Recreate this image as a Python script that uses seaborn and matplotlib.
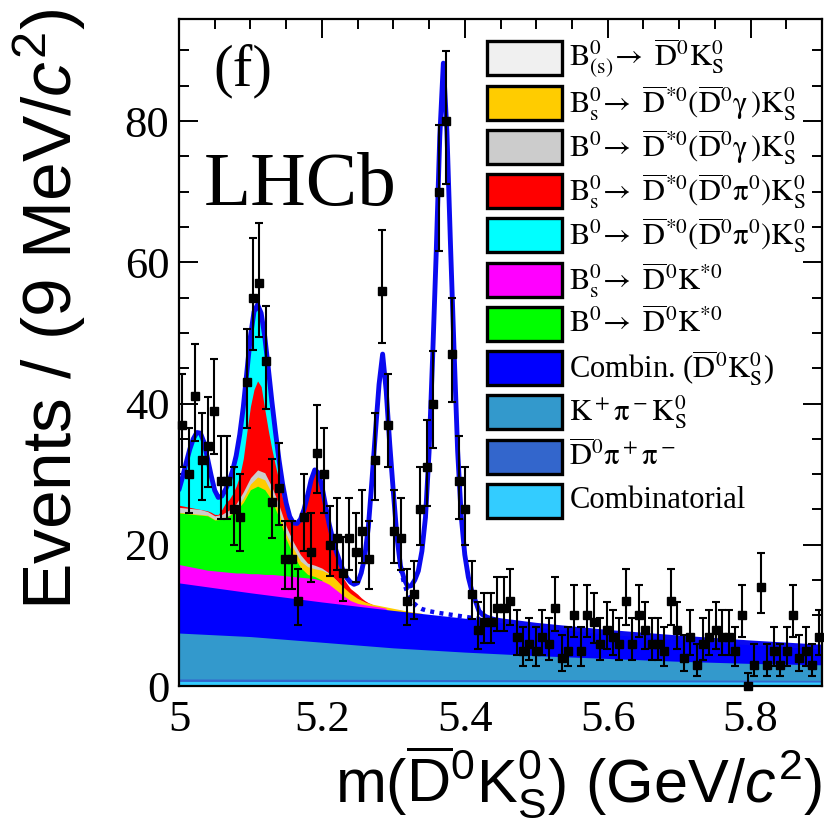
import numpy as np
import matplotlib
matplotlib.use("Agg")
import matplotlib.pyplot as plt
import seaborn as sns
from matplotlib.patches import Rectangle
from matplotlib.ticker import MultipleLocator, FuncFormatter

# ---------------- data ----------------
# histogram: 100 bins of 9 MeV from 5.0 to 5.9 GeV
bin_start = 5.0
bin_width = 0.009
counts = [37, 30, 41, 32, 34, 39, 29, 29, 25, 24,
          43, 55, 57, 46, 26, 28, 18, 18, 12, 24,
          19, 33, 30, 20, 21, 16, 21, 19, 22, 18,
          32, 56, 37, 22, 21, 12, 13, 25, 31, 40,
          70, 80, 47, 29, 25, 13, 8, 9, 9, 11,
          11, 12, 7, 5, 6, 5, 7, 6, 11, 4,
          5, 10, 5, 10, 9, 6, 8, 7, 6, 12,
          6, 10, 8, 6, 6, 5, 12, 8, 4, 7,
          3, 6, 7, 8, 7, 7, 5, 10, 0, 3,
          14, 3, 5, 3, 5, 10, 4, 5, 3, 7]

# total fit curve (fine samples 5.000..5.450 step 5 MeV, then coarse tail)
curve_fine_y = [27.8, 29.6, 31.6, 33.5, 35.0, 35.9, 35.8, 34.5, 32.2, 29.8,
                27.7, 26.7, 26.9, 27.8, 28.9, 30.5, 32.6, 35.6, 39.5, 44.5,
                49.5, 53.0, 54.0, 52.8, 49.5, 45.0, 40.3, 36.0, 32.0, 28.6,
                25.9, 24.0, 23.1, 23.0, 23.6, 25.0, 27.0, 29.2, 30.6, 30.2,
                28.3, 25.6, 23.0, 20.9, 19.1, 17.6, 16.3, 15.3, 14.7, 14.4,
                14.6, 16.0, 18.3, 22.5, 29.0, 36.0, 42.7, 47.0, 41.8, 34.2,
                27.5, 21.2, 17.0, 15.2, 14.1, 14.2, 15.0, 16.3, 19.1, 23.9,
                33.1, 46.6, 61.3, 77.8, 88.2, 78.5, 62.5, 47.5, 33.3, 24.1,
                18.6, 15.4, 13.4, 12.0, 10.6, 10.1, 9.8, 9.6, 9.45, 9.35,
                9.25]
curve_tail_x = [5.5, 5.6, 5.7, 5.8, 5.9]
curve_tail_y = [8.6, 7.6, 6.8, 6.1, 5.5]

# dotted curve (fit without the Bs signal)
dot_x = [5.310, 5.315, 5.320, 5.325, 5.330, 5.335, 5.340, 5.345, 5.350, 5.360,
         5.370, 5.380, 5.390, 5.400, 5.410, 5.420, 5.430, 5.440, 5.450]
dot_y = [16.6, 14.6, 13.1, 12.2, 11.6, 11.15, 10.9, 10.75, 10.6, 10.4,
         10.25, 10.1, 9.95, 9.8, 9.65, 9.5, 9.4, 9.3, 9.2]

# cumulative tops of stacked components
cyan_top = [27.6, 29.4, 31.4, 33.3, 34.8, 35.7, 35.6, 34.3, 32.0, 29.6,
            27.5, 26.5, 26.7, 27.6, 28.7, 30.3, 32.4, 35.4, 39.3, 44.3,
            49.3, 52.8, 53.8, 52.6, 49.3, 44.8, 40.1, 35.8, 31.6, 27.8,
            25.0, 23.8]                                   # 5.000..5.155 step 0.005
red_top = [25.6, 25.5, 25.4, 25.3, 25.2, 25.1, 25.0, 24.9, 24.8, 24.6,
           24.3, 24.3, 25.0, 25.9, 26.4, 27.2, 28.3, 29.8, 32.2, 36.0,
           39.6, 42.0, 43.2, 42.4, 39.2, 36.2, 33.5, 31.2, 29.0, 26.6,
           24.8, 23.8, 22.9, 22.8, 23.4, 24.8, 26.8, 29.0, 30.4, 30.0,
           28.1, 25.4, 22.8, 20.6, 18.7, 16.6, 15.3, 14.5, 13.8, 13.4,
           13.0, 12.5, 12.1, 11.8, 11.6]                  # 5.000..5.270 step 0.005
grey_top = [25.3, 25.2, 25.1, 25.0, 24.7, 24.1, 24.3, 24.9, 25.8, 27.5,
            29.5, 30.6, 30.2, 28.2, 25.6, 22.6, 20.4, 18.6, 17.4, 17.1,
            16.7, 16.0, 15.0, 13.8, 12.8, 12.3, 11.9]     # 5.00..5.26 step 0.01
yellow_top = [24.6, 24.5, 24.4, 24.3, 24.2, 23.6, 23.7, 24.2, 25.0, 26.6,
              28.6, 29.6, 29.2, 27.3, 24.6, 21.5, 19.5, 17.7, 16.9, 16.6,
              16.4, 15.9, 15.0, 14.0, 13.1, 12.4, 11.9, 11.6, 11.4, 11.2,
              11.0, 10.8, 10.6, 10.45, 10.3]              # 5.00..5.34
green_top = [24.5, 24.4, 24.3, 24.2, 24.1, 23.5, 23.6, 24.1, 24.8, 26.0,
             27.8, 28.3, 27.8, 26.3, 23.8, 20.8, 18.5, 16.8, 15.8, 15.5,
             15.0]                                        # 5.00..5.20
magenta_top = [17.2, 17.0, 16.8, 16.6, 16.4, 16.3, 16.2, 16.1, 16.0, 16.0,
               15.9, 15.9, 15.8, 15.8, 15.7, 15.6, 15.5, 15.4, 15.3, 15.2,
               14.9, 14.4, 13.6, 12.8, 12.1, 11.7, 11.5, 11.35, 11.2, 11.0]  # 5.00..5.29
bg_x = [5.0, 5.1, 5.2, 5.3, 5.4, 5.5, 5.6, 5.7, 5.8, 5.9]
blue_top = [14.6, 13.2, 11.9, 10.7, 9.6, 8.6, 7.6, 6.8, 6.1, 5.5]
teal_top = [7.5, 7.0, 6.2, 5.4, 4.8, 4.3, 3.9, 3.5, 3.2, 3.0]
dpp_top = [1.0, 0.97, 0.95, 0.93, 0.91, 0.89, 0.87, 0.85, 0.83, 0.8]
comb_top = [0.65, 0.64, 0.63, 0.62, 0.61, 0.6, 0.59, 0.58, 0.57, 0.56]

legend_labels = [
    r'$\mathrm{B^0_{(s)}\!\rightarrow\ \overline{D}^0K^0_S}$',
    r'$\mathrm{B^0_s\!\rightarrow\ \overline{D}^{*0}(\overline{D}^0\gamma\,)K^0_S}$',
    r'$\mathrm{B^0\!\rightarrow\ \overline{D}^{*0}(\overline{D}^0\gamma\,)K^0_S}$',
    r'$\mathrm{B^0_s\!\rightarrow\ \overline{D}^{*0}(\overline{D}^0\pi^0)K^0_S}$',
    r'$\mathrm{B^0\!\rightarrow\ \overline{D}^{*0}(\overline{D}^0\pi^0)K^0_S}$',
    r'$\mathrm{B^0_s\!\rightarrow\ \overline{D}^0K^{*0}}$',
    r'$\mathrm{B^0\!\rightarrow\ \overline{D}^0K^{*0}}$',
    r'Combin. ($\mathrm{\overline{D}^0K^0_S}$)',
    r'$\mathrm{K^+\pi^-K^0_S}$',
    r'$\mathrm{\overline{D}^0\pi^+\pi^-}$',
    'Combinatorial',
]
legend_colors = ['#f0f0f0', '#ffcc00', '#cccccc', '#ff0000', '#00ffff',
                 '#ff00ff', '#00ff00', '#0000ff', '#3399cc', '#3366cc', '#33ccff']

# ---------------- derived grids ----------------
def grid(start, step, n):
    return np.round(start + step * np.arange(n), 4)

centers = bin_start + bin_width * (np.arange(len(counts)) + 0.5)
n = np.array(counts, float)
nn = np.maximum(n, 1.0)
err_lo = np.where(n > 0, n - n * (1 - 1 / (9 * nn) - 1 / (3 * np.sqrt(nn))) ** 3, 0.0)
err_hi = (n + 1) * (1 - 1 / (9 * (n + 1)) + 1 / (3 * np.sqrt(n + 1))) ** 3 - n

curve_x = np.concatenate([grid(5.0, 0.005, len(curve_fine_y)), curve_tail_x])
curve_y = np.concatenate([curve_fine_y, curve_tail_y])

layers = [
    (grid(5.0, 0.005, len(cyan_top)), cyan_top, '#00ffff'),
    (grid(5.0, 0.005, len(red_top)), red_top, '#ff0000'),
    (grid(5.0, 0.01, len(grey_top)), grey_top, '#cccccc'),
    (grid(5.0, 0.01, len(yellow_top)), yellow_top, '#ffcc00'),
    (grid(5.0, 0.01, len(green_top)), green_top, '#00ff00'),
    (grid(5.0, 0.01, len(magenta_top)), magenta_top, '#ff00ff'),
    (bg_x, blue_top, '#0000ff'),
    (bg_x, teal_top, '#3399cc'),
    (bg_x, dpp_top, '#3366cc'),
    (bg_x, comb_top, '#33ccff'),
]

# ---------------- style ----------------
sns.set_style("ticks")
plt.rcParams.update({
    'font.family': ['Liberation Serif', 'DejaVu Serif'],
    'mathtext.fontset': 'custom',
    'mathtext.rm': 'Liberation Sans',
    'mathtext.it': 'Liberation Sans:italic',
    'mathtext.bf': 'Liberation Sans:bold',
    'axes.linewidth': 1.6,
    'axes.edgecolor': 'black',
    'axes.labelcolor': 'black',
    'text.color': 'black',
    'xtick.color': 'black',
    'ytick.color': 'black',
})

W, H = 824, 819
fig = plt.figure(figsize=(W / 100, H / 100), dpi=100)
fig.patch.set_facecolor('white')
ax = fig.add_axes([179 / W, 133 / H, 643 / W, 667 / H])
ax.set_facecolor('white')

for x, top, c in layers:
    ax.fill_between(x, 0, top, color=c, lw=0, zorder=1)

sns.lineplot(x=dot_x, y=dot_y, ax=ax, color='#0a0af0', lw=3.2,
             linestyle=(0, (0.9, 1.2)), estimator=None, sort=False, zorder=2)
sns.lineplot(x=curve_x, y=curve_y, ax=ax, color='#0a0af0', lw=3.5,
             estimator=None, sort=False, zorder=3)

ax.errorbar(centers, counts, yerr=[err_lo, err_hi], fmt='s', color='black',
            ms=6, capsize=2.8, elinewidth=1.5, capthick=1.5, zorder=5, clip_on=False)

ax.set_xlim(5.0, 5.9)
ax.set_ylim(0, 94.45)
ax.xaxis.set_major_locator(MultipleLocator(0.2))
ax.xaxis.set_minor_locator(MultipleLocator(0.05))
ax.yaxis.set_major_locator(MultipleLocator(20))
ax.yaxis.set_minor_locator(MultipleLocator(5))
fmt = FuncFormatter(lambda v, p: f'{v:g}')
ax.xaxis.set_major_formatter(fmt)
ax.yaxis.set_major_formatter(fmt)
ax.tick_params(which='both', direction='in', top=True, right=True, width=1.4)
ax.tick_params(which='major', length=13.5)
ax.tick_params(which='minor', length=7)
ax.tick_params(axis='x', pad=10, labelsize=32)
ax.tick_params(axis='y', pad=7, labelsize=32)
for s in ax.spines.values():
    s.set_zorder(10)

ax.set_xlabel(r'm($\overline{\rm D}^0$K$^0_{\rm S}$) (GeV/$c^2$)', fontsize=44,
              fontfamily='Liberation Sans', loc='right')
ax.xaxis.set_label_coords(1.0, -0.087)
ax.set_ylabel(r'Events / (9 MeV/$c^2$)', fontsize=50,
              fontfamily='Liberation Sans', loc='top')
ax.yaxis.set_label_coords(-0.142, 1.016)

ax.text(0.053, 0.901, '(f)', transform=ax.transAxes, fontsize=42.5,
        family='Liberation Serif', va='baseline', ha='left')
ax.text(0.038, 0.721, 'LHCb', transform=ax.transAxes, fontsize=55.5,
        family='Liberation Serif', va='baseline', ha='left')

# legend drawn as swatches + labels
box_x0, box_w, box_h = 0.4795, 0.1166, 0.051
row0, row_step, text_x = 0.9411, 0.06634, 0.6073
for i, (lab, col) in enumerate(zip(legend_labels, legend_colors)):
    yc = row0 - i * row_step
    ax.add_patch(Rectangle((box_x0, yc - box_h / 2), box_w, box_h, transform=ax.transAxes,
                           facecolor=col, edgecolor='black', lw=2.4, zorder=6, clip_on=False))
    ax.text(text_x, yc, lab, transform=ax.transAxes, fontsize=22, va='center', ha='left',
            family='Liberation Serif', math_fontfamily='stix', zorder=6)

fig.savefig('out.png', dpi=100, facecolor='white')
